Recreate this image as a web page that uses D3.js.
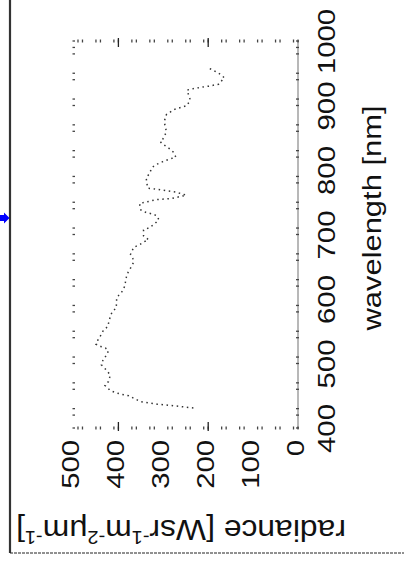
<!DOCTYPE html>
<html><head><meta charset="utf-8">
<script src="https://cdn.jsdelivr.net/npm/d3@7"></script>
<style>html,body{margin:0;padding:0;background:#fff;} svg{display:block;}</style>
</head><body>
<svg id="c" width="404" height="564"></svg>
<script>
// ---- data ----
const wavelength = [431,434,437,441,450,452,455,458,466,472,482,490,498,508,512,520,524,526,530,536,543,552,557,573,580,586,595,601,606,613,620,635,642,649,657,663,669,680,685,689,692,698,707,710,716,723,729,732,734,738,748,754,756,761,766,769,772,787,796,804,809,813,816,820,828,834,840,844,848,859,875,886,890,894,897,900,909,917,924,927,930,933,943,948,952,955,958];
const radiance   = [233,270,314,351,377,392,407,418,430,422,418,427,438,433,427,422,429,438,450,446,440,433,424,418,414,405,404,404,399,390,386,382,378,372,366,368,373,366,351,342,333,344,344,333,320,310,314,325,338,350,353,316,280,249,273,303,335,338,330,325,314,301,290,272,278,288,301,307,301,293,298,293,284,275,261,247,240,244,247,227,199,177,164,172,182,190,199];
const radianceTicks = [0,100,200,300,400,500];
const wavelengthTicks = [400,500,600,700,800,900,1000];
const xTitle = "wavelength [nm]";
const yTitleParts = [["radiance [Wsr",0],["-1",1],["m",0],["-2",1],["\u03bcm",0],["-1",1],["]",0]];

// ---- layout ----
const svg = d3.select("#c");
const P = {left:73.5, right:298, top:41, bottom:428};
const FONT = "'Liberation Sans', Arial, Helvetica, sans-serif";
const r = d3.scaleLinear().domain([0,500]).range([P.right, P.left]);   // radiance (rotated: horizontal)
const w = d3.scaleLinear().domain([400,1000]).range([P.bottom, P.top]); // wavelength (rotated: vertical)

// outer border of scanned figure
svg.append("line").attr("x1",10).attr("x2",10).attr("y1",0).attr("y2",553)
  .attr("stroke","#333").attr("stroke-width",2.2);
svg.append("line").attr("x1",10).attr("x2",404).attr("y1",553).attr("y2",553)
  .attr("stroke","#222").attr("stroke-width",1).attr("stroke-dasharray","3,1");
svg.append("path").attr("d","M0,215L4,215L4,212.5L9.5,218L4,223.5L4,221L0,221Z").attr("fill","#0000ff");

// right axis line (original x axis)
svg.append("line").attr("x1",P.right).attr("x2",P.right).attr("y1",P.top).attr("y2",P.bottom)
  .attr("stroke","#b8b8b8").attr("stroke-width",2);

// minor ticks (dotted frame)
const rMinor = d3.range(0,501,10).filter(v => v % 40 === 0 || v % 40 === 10);
const wMinor = d3.range(400,1001,10).filter(v => (v/10) % 4 === 2 || (v/10) % 4 === 3 || v===400 || v===1000);
const tk = svg.append("g").attr("stroke","#444").attr("stroke-width",1.3);
rMinor.forEach(v => {
  tk.append("line").attr("x1",r(v)).attr("x2",r(v)).attr("y1",P.top-1.5).attr("y2",P.top+1.5);
  tk.append("line").attr("x1",r(v)).attr("x2",r(v)).attr("y1",P.bottom-1.5).attr("y2",P.bottom+1.5);
});
[200,400].forEach(v => {
  tk.append("line").attr("x1",r(v)).attr("x2",r(v)).attr("y1",P.top-3).attr("y2",P.top+6).attr("stroke","#222");
  tk.append("line").attr("x1",r(v)).attr("x2",r(v)).attr("y1",P.bottom-6).attr("y2",P.bottom+3).attr("stroke","#222");
});
wMinor.forEach(v => {
  tk.append("line").attr("x1",P.left-1).attr("x2",P.left+1.5).attr("y1",w(v)).attr("y2",w(v));
  tk.append("line").attr("x1",P.right-2).attr("x2",P.right+1).attr("y1",w(v)).attr("y2",w(v));
});

// data line
const line = d3.line().x((d,i)=>r(radiance[i])).y((d,i)=>w(wavelength[i]));
svg.append("path").datum(wavelength).attr("d",line).attr("fill","none")
  .attr("stroke","#333").attr("stroke-width",1.5).attr("stroke-dasharray","1.5,3.6");

// axes (labels only, rotated like the scanned figure)
const LS = 1.22;
const gW = svg.append("g").attr("transform",`translate(${P.right},0)`)
  .call(d3.axisRight(w).tickValues(wavelengthTicks).tickSize(0).tickFormat(d3.format("d")));
gW.select(".domain").remove();
gW.selectAll("text").attr("x",null).attr("dy",null).attr("fill","#111")
  .style("font-family",FONT).style("font-size","24px")
  .attr("text-anchor","middle")
  .attr("transform",`translate(29,0) rotate(-90) scale(${LS},1)`)
  .attr("dy","0.35em");

const gR = svg.append("g").attr("transform",`translate(0,${P.bottom})`)
  .call(d3.axisBottom(r).tickValues(radianceTicks).tickSize(0).tickFormat(d3.format("d")));
gR.select(".domain").remove();
gR.selectAll("text").attr("y",null).attr("dy",null).attr("fill","#111")
  .style("font-family",FONT).style("font-size","24px")
  .attr("text-anchor","end")
  .attr("transform",`translate(-3,12) rotate(-90) scale(${LS},1)`)
  .attr("dy","0.35em");

// x title (wavelength)
const xt = svg.append("text").text(xTitle).attr("fill","#111")
  .style("font-family",FONT).style("font-size","26px").attr("text-anchor","middle");
const xw = xt.node().getComputedTextLength();
xt.attr("transform",`translate(381,218) rotate(-90) scale(${225/xw},1)`);

// y title (radiance), upside down
const yt = svg.append("text").attr("fill","#111")
  .style("font-family",FONT).style("font-size","24px").attr("text-anchor","middle");
let prevSup = 0;
yTitleParts.forEach(([s,sup]) => {
  const ts = yt.append("tspan").text(s);
  if (sup) { ts.style("font-size","15px"); }
  const dy = sup && !prevSup ? -9 : (!sup && prevSup ? 9 : 0);
  if (dy) ts.attr("dy", dy);
  prevSup = sup;
});
const yw = yt.node().getComputedTextLength();
yt.attr("transform",`translate(181,520) rotate(180) scale(${330/yw},1.2)`);
</script>
</body></html>
